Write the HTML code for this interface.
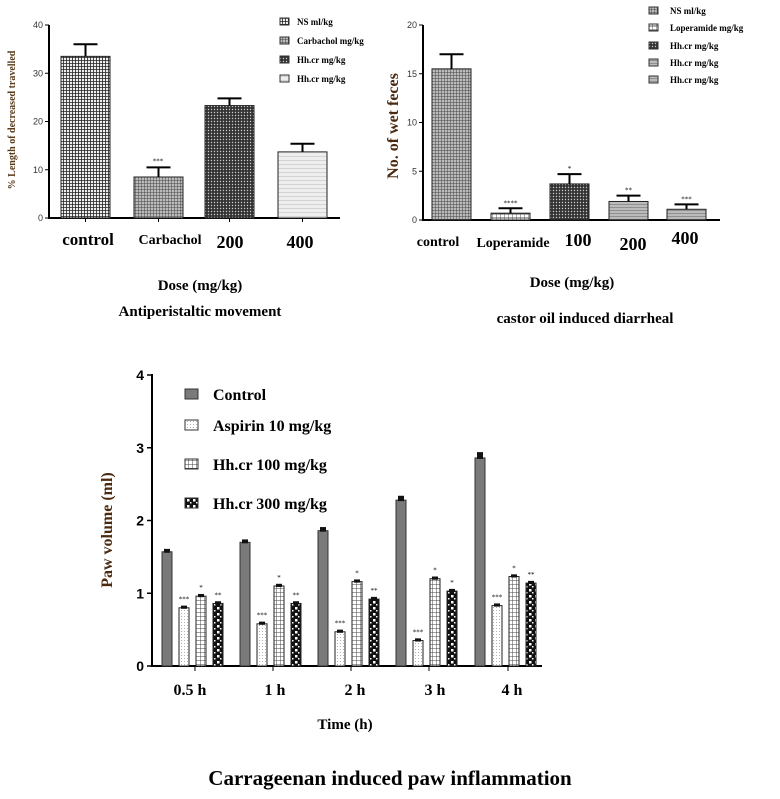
<!DOCTYPE html>
<html><head><meta charset="utf-8"><style>
body{margin:0;background:#fff;}
svg{display:block;font-family:"Liberation Serif",serif;}
</style></head><body>
<svg width="780" height="799" viewBox="0 0 780 799">
<defs>
<pattern id="pGrid" width="3" height="3" patternUnits="userSpaceOnUse"><rect width="3" height="3" fill="#eee"/><path d="M0 0H3M0 0V3" stroke="#222" stroke-width="1.6"/></pattern>
<pattern id="pGrid2" width="3" height="3" patternUnits="userSpaceOnUse"><rect width="3" height="3" fill="#bbb"/><path d="M0 0H3M0 0V3" stroke="#444" stroke-width="1"/></pattern>
<pattern id="pDots" width="3" height="3" patternUnits="userSpaceOnUse"><rect width="3" height="3" fill="#333"/><circle cx="1.5" cy="1.5" r="0.7" fill="#ccc"/></pattern>
<pattern id="pLight" width="4" height="4" patternUnits="userSpaceOnUse"><rect width="4" height="4" fill="#eee"/><path d="M0 0H4" stroke="#bbb" stroke-width="1"/></pattern>
<pattern id="pVert" width="4" height="4" patternUnits="userSpaceOnUse"><rect width="4" height="4" fill="#fff"/><path d="M0 0V4M0 2H4" stroke="#555" stroke-width="1"/></pattern>
<pattern id="pHoriz" width="4" height="3" patternUnits="userSpaceOnUse"><rect width="4" height="3" fill="#bbb"/><path d="M0 0H4" stroke="#666" stroke-width="1"/></pattern>
<pattern id="pAsp" width="3" height="3" patternUnits="userSpaceOnUse"><rect width="3" height="3" fill="#fff"/><circle cx="1.5" cy="1.5" r="0.5" fill="#999"/></pattern>
<pattern id="pHH" width="4" height="4" patternUnits="userSpaceOnUse"><rect width="4" height="4" fill="#fff"/><path d="M0 0H4M0 0V4" stroke="#444" stroke-width="1"/></pattern>
<pattern id="pChk" width="6" height="6" patternUnits="userSpaceOnUse"><rect width="6" height="6" fill="#111"/><rect x="1" y="1" width="2.5" height="2.5" fill="#fff"/><rect x="4" y="4" width="1.5" height="1.5" fill="#fff"/></pattern>
</defs>
<g id="c1"></g>
<g id="c2"></g>
<g id="c3"></g>
</svg>
<script>
const NS="http://www.w3.org/2000/svg";
// Chart 1 data
const c1Cats=["control","Carbachol","200","400"];
const c1Vals=[33.5,8.5,23.3,13.7];
const c1Errs=[2.5,2.0,1.5,1.7];
const c1Ticks=[0,10,20,30,40];
const c1Legend=["NS ml/kg","Carbachol mg/kg","Hh.cr mg/kg","Hh.cr mg/kg"];
// Chart 2 data
const c2Cats=["control","Loperamide","100","200","400"];
const c2Vals=[15.5,0.7,3.7,1.9,1.1];
const c2Errs=[1.5,0.5,1.0,0.6,0.5];
const c2Ticks=[0,5,10,15,20];
const c2Stars=["","****","*","**","***"];
const c2Legend=["NS ml/kg","Loperamide mg/kg","Hh.cr mg/kg","Hh.cr mg/kg","Hh.cr mg/kg"];
// Chart 3 data
const c3Cats=["0.5 h","1 h","2 h","3 h","4 h"];
const c3Series=["Control","Aspirin 10 mg/kg","Hh.cr 100 mg/kg","Hh.cr 300 mg/kg"];
const c3Control=[1.57,1.7,1.86,2.28,2.86];
const c3Aspirin=[0.8,0.58,0.47,0.35,0.83];
const c3Hh100=[0.96,1.1,1.16,1.2,1.23];
const c3Hh300=[0.86,0.86,0.92,1.03,1.14];
const c3Err=[0.04,0.04,0.05,0.06,0.08];
const c3Ticks=[0,1,2,3,4];
const c3StarsA=["***","***","***","***","***"];
const c3Stars100=["*","*","*","*","*"];
const c3Stars300=["**","**","**","*","**"];

function el(p,tag,attrs,txt){const e=document.createElementNS(NS,tag);for(const k in attrs)e.setAttribute(k,attrs[k]);if(txt!==undefined)e.textContent=txt;p.appendChild(e);return e;}

// ---- Chart 1
(function(){
const g=document.getElementById('c1');
const y=v=>218-v*(193/40);
const x0=[61,134,205,278],bw=49;
const fills=["url(#pGrid)","url(#pGrid2)","url(#pDots)","url(#pLight)"];
el(g,'line',{x1:49,y1:25,x2:49,y2:219,stroke:'#000','stroke-width':2});
el(g,'line',{x1:48,y1:218,x2:340,y2:218,stroke:'#000','stroke-width':2});
c1Ticks.forEach(t=>{el(g,'line',{x1:45,x2:49,y1:y(t),y2:y(t),stroke:'#000'});
 const tl=el(g,'text',{x:43,y:y(t)+3,'font-size':9,'text-anchor':'end',fill:'#333','font-family':'Liberation Sans, sans-serif'},t);
 });
c1Vals.forEach((v,i)=>{const cx=x0[i]+bw/2;
 const b=el(g,'rect',{x:x0[i],y:y(v),width:bw,height:218-y(v),fill:fills[i],stroke:'#222','stroke-width':1});
 
 el(g,'line',{x1:cx,x2:cx,y1:y(v),y2:y(v+c1Errs[i]),stroke:'#000','stroke-width':2});
 el(g,'line',{x1:cx-12,x2:cx+12,y1:y(v+c1Errs[i]),y2:y(v+c1Errs[i]),stroke:'#000','stroke-width':2});
 el(g,'line',{x1:cx,x2:cx,y1:218,y2:222,stroke:'#000'});
});
el(g,'text',{x:158,y:y(c1Vals[1]+c1Errs[1])-4,'font-size':7,'text-anchor':'middle'},'***');
const lx=[88,170,230,300],ly=[245,244,248,248],fs=[17,14,18,18];
c1Cats.forEach((c,i)=>{const t=el(g,'text',{x:lx[i],y:ly[i],'font-size':fs[i],'font-weight':'bold','text-anchor':'middle'},c);
 });
const xt=el(g,'text',{x:200,y:290,'font-size':15,'font-weight':'bold','text-anchor':'middle'},'Dose (mg/kg)');

const tt=el(g,'text',{x:200,y:316,'font-size':15,'font-weight':'bold','text-anchor':'middle'},'Antiperistaltic movement');

const yt=el(g,'text',{x:0,y:0,'font-size':10,'font-weight':'bold','text-anchor':'middle',fill:'#5a3a1a',transform:'translate(15,120) rotate(-90)'},'% Length of decreased travelled');

const lys=[25,44,63,82];
c1Legend.forEach((l,i)=>{el(g,'rect',{x:280,y:lys[i]-7,width:9,height:7,fill:fills[i],stroke:'#333'});
 const t=el(g,'text',{x:297,y:lys[i],'font-size':9,'font-weight':'bold'},l);
 });
})();

// ---- Chart 2
(function(){
const g=document.getElementById('c2');
const y=v=>220-v*(195/20);
const x0=[432,491,550,609,667],bw=39;
const fills=["url(#pGrid2)","url(#pVert)","url(#pDots)","url(#pHoriz)","url(#pHoriz)"];
el(g,'line',{x1:423,y1:25,x2:423,y2:221,stroke:'#000','stroke-width':2});
el(g,'line',{x1:422,y1:220,x2:720,y2:220,stroke:'#000','stroke-width':2});
c2Ticks.forEach(t=>{el(g,'line',{x1:419,x2:423,y1:y(t),y2:y(t),stroke:'#000'});
 const tl=el(g,'text',{x:417,y:y(t)+3,'font-size':9,'text-anchor':'end',fill:'#333','font-family':'Liberation Sans, sans-serif'},t);
 });
c2Vals.forEach((v,i)=>{const cx=x0[i]+bw/2;
 const b=el(g,'rect',{x:x0[i],y:y(v),width:bw,height:220-y(v),fill:fills[i],stroke:'#222','stroke-width':1});
 
 el(g,'line',{x1:cx,x2:cx,y1:y(v),y2:y(v+c2Errs[i]),stroke:'#000','stroke-width':2});
 el(g,'line',{x1:cx-12,x2:cx+12,y1:y(v+c2Errs[i]),y2:y(v+c2Errs[i]),stroke:'#000','stroke-width':2});
 if(c2Stars[i])el(g,'text',{x:cx,y:y(v+c2Errs[i])-3,'font-size':7,'text-anchor':'middle'},c2Stars[i]);
});
const lx=[438,513,578,633,685],ly=[246,247,246,250,244],fs=[14,14,18,18,18];
c2Cats.forEach((c,i)=>{const t=el(g,'text',{x:lx[i],y:ly[i],'font-size':fs[i],'font-weight':'bold','text-anchor':'middle'},c);
 });
const xt=el(g,'text',{x:572,y:287,'font-size':15,'font-weight':'bold','text-anchor':'middle'},'Dose (mg/kg)');

const tt=el(g,'text',{x:585,y:323,'font-size':15,'font-weight':'bold','text-anchor':'middle'},'castor oil induced diarrheal');

const yt=el(g,'text',{x:0,y:0,'font-size':16,'font-weight':'bold','text-anchor':'middle',fill:'#4a2a10',transform:'translate(398,126) rotate(-90)'},'No. of wet feces');

const lys=[14,31,49,66,83];
c2Legend.forEach((l,i)=>{el(g,'rect',{x:649,y:lys[i]-7,width:9,height:7,fill:fills[i],stroke:'#333'});
 const t=el(g,'text',{x:670,y:lys[i],'font-size':9,'font-weight':'bold'},l);
 });
})();

// ---- Chart 3
(function(){
const g=document.getElementById('c3');
const y=v=>666-v*(291/4);
const gx=[162,240,318,396,475],bw=10,stride=17;
const fills=["#7a7a7a","url(#pAsp)","url(#pHH)","url(#pChk)"];
const series=[c3Control,c3Aspirin,c3Hh100,c3Hh300];
const stars=[null,c3StarsA,c3Stars100,c3Stars300];
el(g,'line',{x1:152,y1:374,x2:152,y2:667,stroke:'#000','stroke-width':2});
el(g,'line',{x1:151,y1:666,x2:542,y2:666,stroke:'#000','stroke-width':2});
c3Ticks.forEach(t=>{el(g,'line',{x1:147,x2:152,y1:y(t),y2:y(t),stroke:'#000','stroke-width':1.5});
 const tl=el(g,'text',{x:144,y:y(t)+5,'font-size':14,'font-weight':'bold','text-anchor':'end','font-family':'Liberation Sans, sans-serif'},t);
 });
c3Cats.forEach((c,i)=>{
 series.forEach((s,j)=>{const x=gx[i]+j*stride,v=s[i],cx=x+bw/2,e=(j==0?c3Err[i]:0.03);
  const b=el(g,'rect',{x:x,y:y(v),width:bw,height:666-y(v),fill:fills[j],stroke:j==0?'#333':'#222','stroke-width':1});
  
  el(g,'rect',{x:cx-3,y:y(v+e),width:6,height:y(v)-y(v+e)+1,fill:'#111'});
  if(stars[j])el(g,'text',{x:cx,y:y(v+e)-4,'font-size':7,'text-anchor':'middle'},stars[j][i]);
 });
 el(g,'line',{x1:gx[i]+33,x2:gx[i]+33,y1:666,y2:671,stroke:'#000'});
});
const lx=[190,275,355,435,512];
c3Cats.forEach((c,i)=>{const t=el(g,'text',{x:lx[i],y:695,'font-size':16,'font-weight':'bold','text-anchor':'middle'},c);
 });
const xt=el(g,'text',{x:345,y:729,'font-size':15,'font-weight':'bold','text-anchor':'middle'},'Time (h)');

const tt=el(g,'text',{x:390,y:785,'font-size':21,'font-weight':'bold','text-anchor':'middle'},'Carrageenan induced paw inflammation');

const yt=el(g,'text',{x:0,y:0,'font-size':16,'font-weight':'bold','text-anchor':'middle',fill:'#4a2a10',transform:'translate(112,530) rotate(-90)'},'Paw volume (ml)');

const lys=[399,430,469,508];
c3Series.forEach((l,i)=>{el(g,'rect',{x:185,y:lys[i]-10,width:13,height:10,fill:fills[i],stroke:'#333'});
 const t=el(g,'text',{x:213,y:lys[i]+1,'font-size':16,'font-weight':'bold'},l);
 });
})();
</script>
</body></html>
